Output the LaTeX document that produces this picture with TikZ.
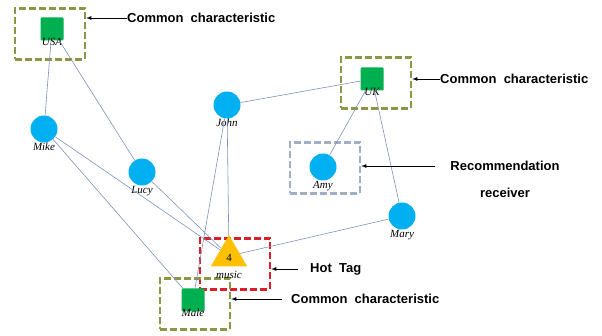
\documentclass[tikz,border=0pt]{standalone}
\usepackage{fontspec}
\setmainfont{Liberation Serif}
\newfontfamily\notefont{Liberation Sans}
\usetikzlibrary{shapes.geometric, positioning}
\definecolor{userblue}{RGB}{0,176,240}
\definecolor{attrgreen}{RGB}{0,176,80}
\definecolor{tagyellow}{RGB}{255,192,0}
\definecolor{boxolive}{RGB}{140,150,70}
\definecolor{boxred}{RGB}{220,30,40}
\definecolor{boxgray}{RGB}{160,175,195}
\definecolor{linkblue}{RGB}{125,145,190}

\begin{document}
\begin{tikzpicture}[x=1pt,y=-1pt,
    every label/.style={font=\itshape\fontsize{11}{12}\selectfont, inner sep=0pt},
    user/.style={circle, fill=userblue, minimum size=27pt, inner sep=0pt, label={[label distance=0pt]below:#1}},
    attr/.style={rectangle, rounded corners=1pt, fill=attrgreen, minimum size=23pt, inner sep=0pt, label={[label distance=-3pt]below:#1}},
    tag/.style={regular polygon, regular polygon sides=3, fill=tagyellow, minimum size=42pt, inner sep=0pt},
    markbox/.style={draw=#1, line width=2.4pt, dash pattern=on 7pt off 3pt, minimum width=70pt, minimum height=51pt},
    note/.style={font=\notefont\bfseries\fontsize{13}{15}\selectfont, anchor=west, inner sep=0pt},
    link/.style={draw=linkblue, line width=0.6pt}]
    \useasboundingbox (0,0) rectangle (602,336);
    % groups around the common characteristics, the receiver and the hot tag
    \node[markbox=boxolive] (usabox) at (50,34) {};
    \node[markbox=boxolive] (ukbox) at (376,83) {};
    \node[markbox=boxgray] (amybox) at (325,168) {};
    \node[markbox=boxred] (tagbox) at (235,264) {};
    \node[markbox=boxolive] (malebox) at (195,304) {};
    % users, attributes and the tag
    \node[attr=USA] (usa) at (52,29) {};
    \node[attr=UK] (uk) at (372,79) {};
    \node[attr=Male] (male) at (193,300) {};
    \node[user=Mike] (mike) at (44,129) {};
    \node[user=Lucy] (lucy) at (142,172) {};
    \node[user=John] (john) at (227,105) {};
    \node[user=Amy] (amy) at (323,167) {};
    \node[user=Mary] (mary) at (402,216) {};
    \node[tag, label={[label distance=4pt]below:music}] (music) at (229,256) {};
    \node[font=\fontsize{11}{12}\selectfont, inner sep=1pt] at (229,258) {4};
    \path[link] (usa) -- (mike) (usa) -- (lucy)
        (mike) -- (music) (mike) -- (male)
        (lucy) -- (music)
        (john) -- (male) (john) -- (music) (john) -- (uk)
        (uk) -- (amy) (uk) -- (mary)
        (mary) -- (music);
    % explanations
    \node[note] (n1) at (127,18) {Common\ \ characteristic};
    \node[note] (n2) at (440,79) {Common\ \ characteristic};
    \node[note, anchor=center] (n3) at (505,166) {Recommendation};
    \node[note, anchor=center] at (505,193) {receiver};
    \node[note] (n4) at (310,269) {Hot\ \ Tag};
    \node[note] (n5) at (291,299) {Common\ \ characteristic};
    \draw[-latex, thick] (n1.west) -- (usabox.east |- n1.west);
    \draw[-latex, thick] (n2.west) -- (ukbox.east |- n2.west);
    \draw[-latex, thick] ([xshift=-15pt]n3.west) -- (amybox.east |- n3.west);
    \draw[-latex, thick] ([xshift=-12pt]n4.west) -- (tagbox.east |- n4.west);
    \draw[-latex, thick] ([xshift=-9pt]n5.west) -- (malebox.east |- n5.west);
\end{tikzpicture}
\end{document}
